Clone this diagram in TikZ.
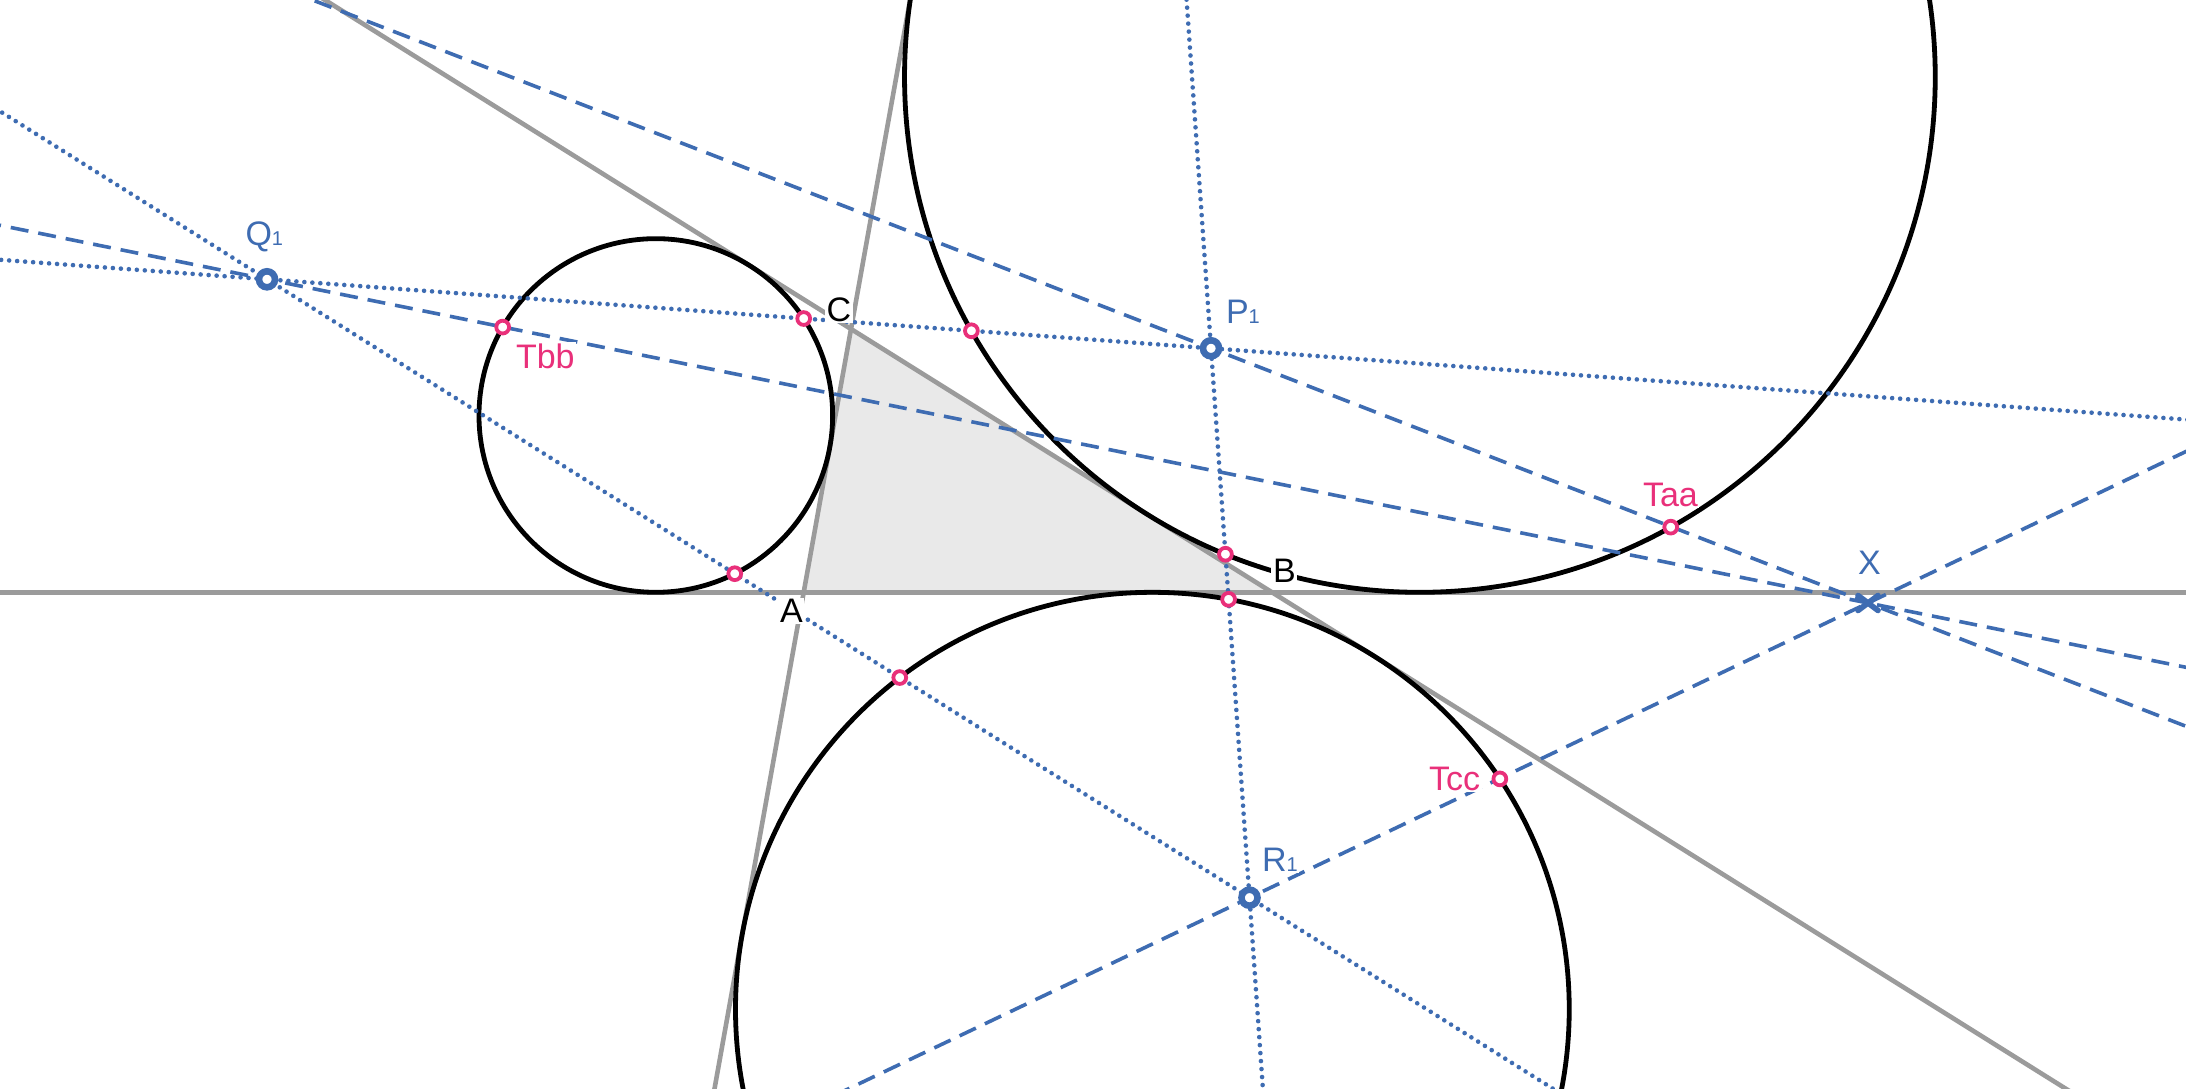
\documentclass[tikz,border=0pt]{standalone}
\usepackage{fontspec}
\setmainfont{Liberation Sans}
\usetikzlibrary{calc}
\definecolor{geoblue}{RGB}{62,108,178}
\definecolor{geopink}{RGB}{233,48,122}
\definecolor{geogray}{RGB}{155,155,155}
\definecolor{trifill}{RGB}{233,233,233}
\newcommand{\lowone}[1]{{\fontsize{10}{12}\selectfont #1}}
\tikzset{
  grayline/.style={draw=geogray, line width=2.3pt},
  excircle/.style={draw=black, line width=2.4pt},
  dashline/.style={draw=geoblue, line width=1.8pt, dash pattern=on 9pt off 5pt},
  dotline/.style={draw=geoblue, line width=2.3pt, line cap=round, dash pattern=on 0pt off 4pt},
  pinkpt/.style={circle, draw=geopink, fill=white, line width=1.9pt, minimum size=6.4pt, inner sep=0pt},
  bluept/.style={circle, draw=geoblue, fill=white, line width=3.3pt, minimum size=8pt, inner sep=0pt},
  lbl/.style={anchor=base west, inner sep=0.8pt, fill=white, font=\fontsize{17}{20}\selectfont},
  xmark/.style={draw=geoblue, line width=2.8pt, line cap=round},
}
\begin{document}
\begin{tikzpicture}[x=0.5pt, y=-0.5pt]
\useasboundingbox (0,0) rectangle (2186,1088);
\fill[white] (0,0) rectangle (2186,1088);
\clip (0,0) rectangle (2186,1088);
% triangle vertices
\coordinate (A) at (803.7,592.3);
\coordinate (B) at (1272,592.3);
\coordinate (C) at (851,329);
% excircle centres
\coordinate (Oa) at (1419.89,76.95);
\coordinate (Ob) at (655.81,415.48);
\coordinate (Oc) at (1152.37,1009.17);
% special points
\coordinate (Q1) at (267,279.3);
\coordinate (P1) at (1211,348.3);
\coordinate (R1) at (1249.5,897.7);
\coordinate (X) at (1868,603);
% pink points
\coordinate (t1) at (803.69,318.53);
\coordinate (t2) at (971.39,330.79);
\coordinate (t3) at (734.75,573.70);
\coordinate (t4) at (899.75,677.55);
\coordinate (t5) at (1225.43,554.21);
\coordinate (t6) at (1228.6,599.33);
\coordinate (Tbb) at (502.67,327.09);
\coordinate (Taa) at (1670.73,527.14);
\coordinate (Tcc) at (1499.86,778.88);

% shaded triangle
\fill[trifill] (A) -- (B) -- (C) -- cycle;
% side lines
\draw[grayline] ($(A)!-3!(B)$) -- ($(A)!5!(B)$);
\draw[grayline] ($(A)!-3!(C)$) -- ($(A)!4!(C)$);
\draw[grayline] ($(B)!-3!(C)$) -- ($(B)!4!(C)$);
% excircles
\draw[excircle] (Oa) circle[radius=257.675pt];
\draw[excircle] (Ob) circle[radius=88.41pt];
\draw[excircle] (Oc) circle[radius=208.435pt];
% dotted lines
\draw[dotline] ($(Q1)!-1!(P1)$) -- ($(Q1)!3!(P1)$);
\draw[dotline] ($(Q1)!-1!(R1)$) -- ($(Q1)!2!(R1)$);
\draw[dotline] ($(P1)!-2!(R1)$) -- ($(P1)!3!(R1)$);
% dashed lines
\draw[dashline] ($(Q1)!-1!(X)$) -- ($(Q1)!2!(X)$);
\draw[dashline] ($(P1)!-2!(X)$) -- ($(P1)!2!(X)$);
\draw[dashline] ($(R1)!-1!(X)$) -- ($(R1)!2!(X)$);
% pink markers
\foreach \p in {t1,t2,t3,t4,t5,t6,Tbb,Taa,Tcc}
  \node[pinkpt] (m\p) at (\p) {};
% blue markers
\node[bluept] (mQ1) at (Q1) {};
\node[bluept] (mP1) at (P1) {};
\node[bluept] (mR1) at (R1) {};
\draw[xmark] ($(X)+(-10,-7.5)$) -- ($(X)+(10,7.5)$);
\draw[xmark] ($(X)+(-10,7.5)$) -- ($(X)+(10,-7.5)$);
% labels
\node[lbl, text=black] (lA) at (778,622.5) {A};
\node[lbl, text=black] (lB) at (1271,582.7) {B};
\node[lbl, text=black] (lC) at (824.5,321.5) {C};
\node[lbl, text=geoblue] (lQ) at (243.5,245.5) {Q\lowone{1}};
\node[lbl, text=geoblue] (lP) at (1224,323) {P\lowone{1}};
\node[lbl, text=geoblue] (lR) at (1260,871.7) {R\lowone{1}};
\node[lbl, text=geoblue] (lX) at (1856,574) {X};
\node[lbl, text=geopink] (lTaa) at (1641,506) {Taa};
\node[lbl, text=geopink] (lTbb) at (514,368) {Tbb};
\node[lbl, text=geopink] (lTcc) at (1427,790.5) {Tcc};
\end{tikzpicture}
\end{document}
